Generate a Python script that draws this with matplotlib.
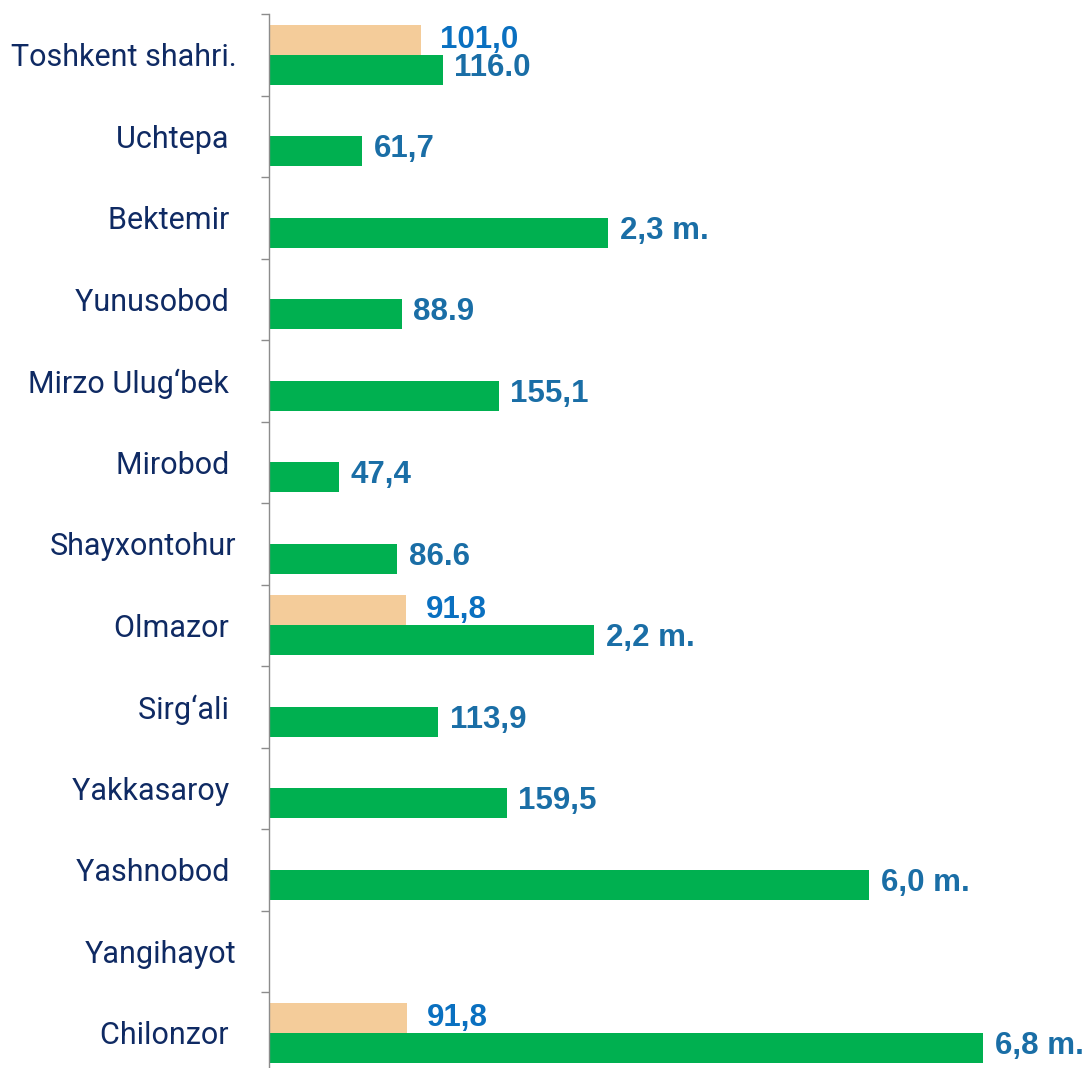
import numpy as np
import matplotlib
matplotlib.use('Agg')
import matplotlib.pyplot as plt

# Tumanlar (yuqoridan pastga)
districts = ['Toshkent shahri.', 'Uchtepa ', 'Bektemir ', 'Yunusobod ', 'Mirzo Ulug‘bek ',
             'Mirobod ', 'Shayxontohur', 'Olmazor ', 'Sirg‘ali ', 'Yakkasaroy ',
             'Yashnobod ', 'Yangihayot', 'Chilonzor ']

# Ustun uzunliklari (rasmdan o'qilgan, nisbiy birlik)
beige_len = [152, 0, 0, 0, 0, 0, 0, 137, 0, 0, 0, 0, 138]
green_len = [174, 93, 339, 133, 230, 70, 128.5, 325.5, 169.5, 238, 601, 0, 715]

# Yozuvlar
beige_lbl = ['101,0', '', '', '', '', '', '', '91,8', '', '', '', '', '91,8']
green_lbl = ['116.0', '61,7', '2,3 m.', '88.9', '155,1', '47,4', '86.6', '2,2 m.',
             '113,9', '159,5', '6,0 m.', '', '6,8 m.']

beige_col = '#F4CC9A'
green_col = '#00B050'
navy = '#0F2A63'

fig = plt.figure(figsize=(10.86, 10.68), dpi=100)
ax = fig.add_axes([268.5 / 1086, -5.5 / 1068, 1 - 268.5 / 1086, 1059.5 / 1068])

y = np.arange(len(districts))
h = 0.368
off = 0.185

ax.barh(y - off, beige_len, height=h, color=beige_col)
ax.barh(y + off, green_len, height=h, color=green_col)

for i in range(len(districts)):
    if beige_lbl[i]:
        ax.annotate(beige_lbl[i], (beige_len[i], y[i] - off), xytext=(20, 0),
                    textcoords='offset pixels', va='center', ha='left',
                    fontsize=22.5, fontweight='bold', color='#0A70C0',
                    family='Liberation Sans')
    if green_lbl[i]:
        ax.annotate(green_lbl[i], (green_len[i], y[i] + off), xytext=(12, 2),
                    textcoords='offset pixels', va='center', ha='left',
                    fontsize=22.5, fontweight='bold', color='#1A6EA6',
                    family='Liberation Sans', annotation_clip=False)

ax.set_xlim(0, 817.5)
ax.set_ylim(len(districts) - 0.5, -0.5)

ax.set_yticks(y)
ax.set_yticklabels(districts, family='Roboto', fontsize=22, color=navy)
ax.set_yticks(np.arange(len(districts) + 1) - 0.5, minor=True)
ax.tick_params(axis='y', which='major', length=0, pad=23)
ax.tick_params(axis='y', which='minor', length=6, width=1, color='#8C8C8C')
ax.set_xticks([])

for s in ['top', 'right', 'bottom']:
    ax.spines[s].set_visible(False)
ax.spines['left'].set_color('#8C8C8C')
ax.spines['left'].set_linewidth(1)

fig.savefig('out.png', dpi=100)
